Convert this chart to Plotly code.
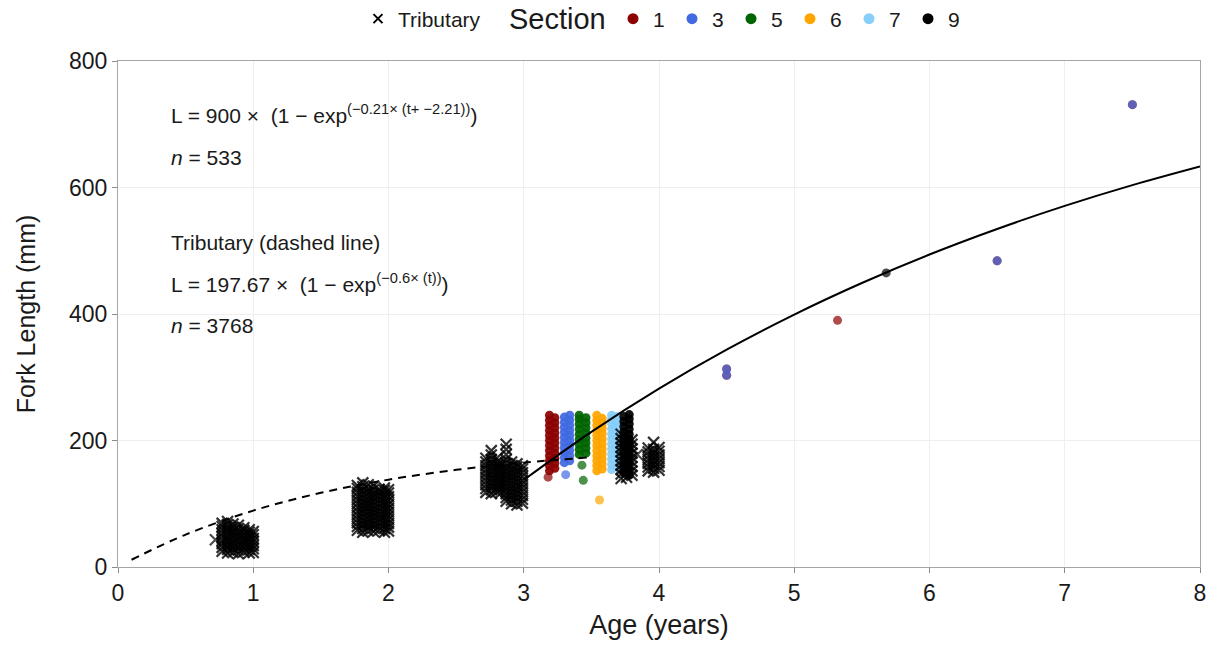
import plotly.graph_objects as go

FONT = "Liberation Sans, Arial, sans-serif"

# ---------------- data ----------------
# Tributary fish (crosses): jittered age columns and the lengths in each column
trib_ages = [0.77, 0.81, 0.85, 0.89, 0.93, 0.97, 1.00,
             1.77, 1.81, 1.85, 1.89, 1.93, 1.97, 2.00,
             2.72, 2.76, 2.80, 2.83,
             2.87, 2.91, 2.95, 2.99,
             3.72, 3.76, 3.80,
             3.92, 3.96, 4.00]
trib_lengths = [
    [25, 31, 37, 42, 48, 53, 59, 64, 69],
    [22, 28, 33, 39, 45, 50, 56, 62, 67, 72],
    [23, 29, 34, 40, 46, 51, 57, 63, 68],
    [21, 27, 32, 38, 44, 49, 55, 61, 66],
    [24, 30, 35, 41, 46, 52, 58, 62],
    [22, 28, 33, 39, 45, 50, 55, 59],
    [23, 29, 34, 40, 45, 51, 56],
    [58, 64, 70, 76, 82, 88, 94, 100, 106, 112, 118, 124, 129],
    [55, 61, 67, 73, 79, 85, 91, 97, 103, 109, 115, 121, 127, 133],
    [57, 63, 69, 75, 81, 87, 93, 99, 105, 111, 117, 123, 130],
    [56, 62, 68, 74, 80, 86, 92, 98, 104, 110, 116, 122, 128],
    [58, 64, 70, 76, 82, 88, 94, 100, 106, 112, 118, 123],
    [55, 61, 67, 73, 79, 85, 91, 97, 103, 109, 115, 121, 125],
    [57, 63, 69, 75, 81, 87, 93, 99, 105, 111, 117, 122],
    [118, 124, 130, 136, 142, 148, 154, 160, 166, 172],
    [116, 122, 128, 134, 140, 146, 152, 158, 164, 170, 177, 184],
    [119, 125, 131, 137, 143, 149, 155, 161, 166, 172],
    [117, 123, 129, 135, 141, 147, 153, 159, 164],
    [104, 110, 116, 122, 128, 134, 140, 146, 152, 158, 164, 170, 178, 186, 194],
    [100, 106, 112, 118, 124, 130, 136, 142, 148, 154, 160, 166],
    [98, 104, 110, 116, 122, 128, 134, 140, 146, 152, 158, 163],
    [101, 107, 113, 119, 125, 131, 137, 143, 149, 155, 160],
    [140, 147, 154, 161, 168, 175, 182, 189, 196, 203, 210],
    [142, 149, 156, 163, 170, 177, 184, 191, 198, 205],
    [145, 152, 159, 166, 173, 180, 187, 194, 201],
    [152, 158, 164, 170, 176, 182, 188],
    [150, 156, 162, 168, 174, 180, 186, 197],
    [153, 159, 165, 171, 177, 183, 189],
]
trib_extra_age = [0.72, 3.84]
trib_extra_len = [43, 178]

# Sections (circles)
section_names = ["1", "3", "5", "6", "7", "9"]
section_colors = ["#8B0000", "#4169E1", "#006400", "#FFA500", "#87CEFA", "#000000"]

s1_ages = [3.19, 3.23]
s1_lengths = [[152, 160, 168, 176, 184, 192, 200, 208, 216, 224, 232, 240],
              [156, 164, 172, 180, 188, 196, 204, 212, 220, 228, 236]]
s1_extra_age = [3.18, 5.32, 4.50, 4.50, 6.50, 7.50]
s1_extra_len = [142, 390, 313, 303, 484, 731]

s3_ages = [3.30, 3.34]
s3_lengths = [[165, 173, 181, 189, 197, 205, 213, 221, 229, 237],
              [168, 176, 184, 192, 200, 208, 216, 224, 232, 240]]
s3_extra_age = [3.31, 4.50, 4.50, 6.50, 7.50]
s3_extra_len = [146, 313, 303, 484, 731]

s5_ages = [3.41, 3.46]
s5_lengths = [[178, 186, 194, 202, 210, 218, 226, 234, 240],
              [180, 188, 196, 204, 212, 220, 228, 236]]
s5_extra_age = [3.43, 3.44]
s5_extra_len = [161, 137]

s6_ages = [3.54, 3.58]
s6_lengths = [[152, 160, 168, 176, 184, 192, 200, 208, 216, 224, 232, 240],
              [155, 163, 171, 179, 187, 195, 203, 211, 219, 227, 235]]
s6_extra_age = [3.56]
s6_extra_len = [106]

s7_ages = [3.65, 3.69]
s7_lengths = [[154, 162, 170, 178, 186, 194, 202, 210, 218, 226, 234, 240],
              [158, 166, 174, 182, 190, 198, 206, 214, 222, 230, 238]]
s7_extra_age = []
s7_extra_len = []

s9_ages = [3.74, 3.78]
s9_lengths = [[150, 160, 170, 180, 190, 198, 206, 214, 222, 230, 238],
              [145, 155, 165, 175, 185, 194, 202, 210, 218, 226, 234, 241]]
s9_extra_age = [5.68]
s9_extra_len = [465]

# Fitted growth curves
main_curve_age = [3.0, 3.5, 4.0, 4.5, 5.0, 5.5, 6.0, 6.5, 7.0, 7.5, 8.0]
main_curve_len = [137.6, 213.6, 282.0, 343.6, 399.1, 449.0, 494.0, 534.4, 570.9, 603.7, 633.2]
trib_curve_age = [0.1, 0.5, 1.0, 1.5, 2.0, 2.5, 3.0, 3.5]
trib_curve_len = [11.5, 51.2, 89.2, 117.3, 138.1, 153.6, 165.0, 173.5]

x_ticks = [0, 1, 2, 3, 4, 5, 6, 7, 8]
y_ticks = [0, 200, 400, 600, 800]


def expand(ages, lengths, extra_age, extra_len, dense_op, sparse_op):
    xs, ys, ops = [], [], []
    for a, ls in zip(ages, lengths):
        xs += [a] * len(ls)
        ys += ls
        ops += [dense_op] * len(ls)
    xs += list(extra_age)
    ys += list(extra_len)
    ops += [sparse_op] * len(extra_age)
    return xs, ys, ops


fig = go.Figure()

section_data = [
    (s1_ages, s1_lengths, s1_extra_age, s1_extra_len),
    (s3_ages, s3_lengths, s3_extra_age, s3_extra_len),
    (s5_ages, s5_lengths, s5_extra_age, s5_extra_len),
    (s6_ages, s6_lengths, s6_extra_age, s6_extra_len),
    (s7_ages, s7_lengths, s7_extra_age, s7_extra_len),
    (s9_ages, s9_lengths, s9_extra_age, s9_extra_len),
]
for name, col, d in zip(section_names, section_colors, section_data):
    xs, ys, ops = expand(*d, 0.92, 0.7)
    fig.add_trace(go.Scatter(x=xs, y=ys, mode="markers", showlegend=False,
                             marker=dict(symbol="circle", size=9, color=col, opacity=ops,
                                         line=dict(width=0)),
                             hoverinfo="skip"))

tx, ty, tops = expand(trib_ages, trib_lengths, trib_extra_age, trib_extra_len, 0.8, 0.7)
fig.add_trace(go.Scatter(x=tx, y=ty, mode="markers", showlegend=False,
                         marker=dict(symbol="x-thin", size=11, color="black", opacity=tops,
                                     line=dict(width=2.2, color="black")),
                         hoverinfo="skip"))

fig.add_trace(go.Scatter(x=trib_curve_age, y=trib_curve_len, mode="lines", showlegend=False,
                         line=dict(color="black", width=2, dash="8px,6px", shape="spline"),
                         hoverinfo="skip"))
fig.add_trace(go.Scatter(x=main_curve_age, y=main_curve_len, mode="lines", showlegend=False,
                         line=dict(color="black", width=2, shape="spline"),
                         hoverinfo="skip"))

# legend-only entries
fig.add_trace(go.Scatter(x=[None], y=[None], mode="markers", name="Tributary", legend="legend",
                         marker=dict(symbol="x-thin", size=9, color="black",
                                     line=dict(width=2, color="black"))))
for name, col in zip(section_names, section_colors):
    fig.add_trace(go.Scatter(x=[None], y=[None], mode="markers", name=name, legend="legend2",
                             marker=dict(symbol="circle", size=11, color=col)))

ann_font = dict(family=FONT, size=21, color="#1a1a1a")
ann = [
    ("L = 900 × \u00a0(1 − exp<sup>(−0.21× (t+ −2.21))</sup>)", 717.0),
    ("<i>n</i> = 533", 648.0),
    ("Tributary (dashed line)", 512.3),
    ("L = 197.67 × \u00a0(1 − exp<sup>(−0.6× (t))</sup>)", 448.5),
    ("<i>n</i> = 3768", 382.5),
]
for text, yv in ann:
    fig.add_annotation(x=0.0471, xref="paper", y=yv, yref="y", text=text, showarrow=False,
                       xanchor="left", yanchor="middle", font=ann_font)

# legend title for the Section legend
fig.add_annotation(x=0.3595, xref="paper", y=1.083, yref="paper", text="Section",
                   showarrow=False, xanchor="left", yanchor="middle",
                   font=dict(family=FONT, size=29, color="#1a1a1a"))

axis_common = dict(showline=True, linecolor="#a6a6a6", linewidth=1, mirror=True,
                   ticks="outside", ticklen=5, tickcolor="#8c8c8c", tickwidth=1,
                   showgrid=True, gridcolor="#efefef", gridwidth=1, zeroline=False,
                   tickfont=dict(family=FONT, size=23, color="#1a1a1a"))

fig.update_layout(
    width=1208, height=645,
    margin=dict(l=118, r=8, t=61, b=78, autoexpand=False),
    paper_bgcolor="white", plot_bgcolor="white",
    font=dict(family=FONT, color="#1a1a1a"),
    xaxis=dict(range=[0, 8], tickvals=x_ticks,
               title=dict(text="Age (years)", font=dict(family=FONT, size=27), standoff=10),
               **axis_common),
    yaxis=dict(range=[0, 800], tickvals=y_ticks,
               title=dict(text="Fork Length (mm)", font=dict(family=FONT, size=25), standoff=26),
               **axis_common),
    legend=dict(orientation="h", x=0.2218, y=1.083, xanchor="left", yanchor="middle",
                font=dict(family=FONT, size=21), bgcolor="rgba(0,0,0,0)"),
    legend2=dict(orientation="h", x=0.4575, y=1.083, xanchor="left", yanchor="middle",
                 font=dict(family=FONT, size=21), bgcolor="rgba(0,0,0,0)",
                 entrywidth=14, entrywidthmode="pixels"),
    hovermode=False,
)

fig.write_html("out.html", config={"displayModeBar": False})
